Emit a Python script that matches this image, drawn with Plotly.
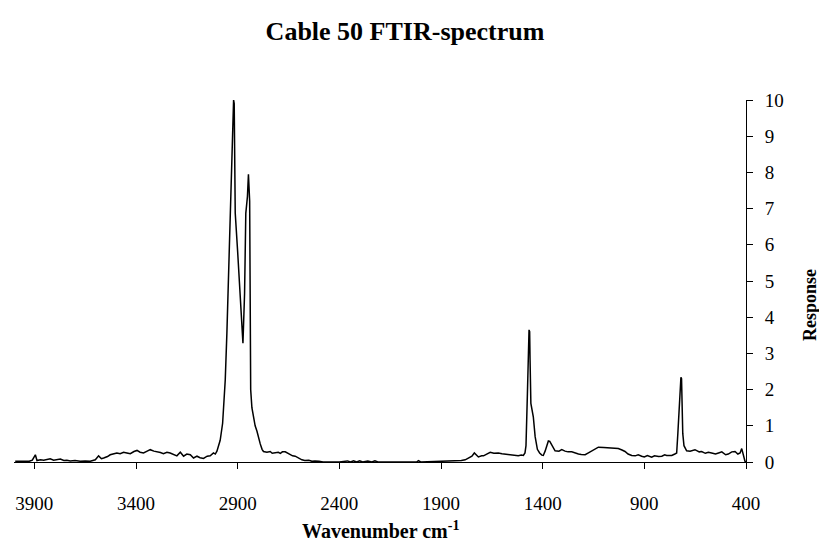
import plotly.graph_objects as go

# Wavenumber (cm-1) and response
wavenumber = [
    3994, 3970, 3953, 3925, 3910, 3904, 3895, 3887, 3870, 3854, 3840, 3822, 3805, 3790, 3772,
    3755, 3740, 3723, 3700, 3674, 3650, 3625, 3610, 3600, 3584, 3570, 3559, 3540, 3527, 3510,
    3494, 3478, 3461, 3445, 3428, 3410, 3395, 3380, 3363, 3345, 3330, 3312, 3297, 3280, 3265,
    3248, 3232, 3215, 3199, 3182, 3166, 3150, 3133, 3117, 3100, 3085, 3068, 3050, 3035, 3019,
    3010, 3002, 2994, 2986, 2974, 2961, 2953, 2937, 2922, 2920, 2917, 2912, 2900, 2887, 2879,
    2874, 2866, 2860, 2852, 2847, 2841, 2836, 2830, 2822, 2814, 2805, 2797, 2789, 2780, 2773,
    2756, 2740, 2730, 2715, 2700, 2690, 2680, 2666, 2655, 2642, 2630, 2617, 2600, 2584, 2570,
    2550, 2535, 2520, 2500, 2480, 2445, 2400, 2360, 2345, 2330, 2315, 2300, 2285, 2260, 2240,
    2225, 2210, 2020, 2011, 2000, 1814, 1800, 1781, 1765, 1748, 1736, 1725, 1716, 1700, 1691,
    1675, 1658, 1640, 1618, 1600, 1585, 1569, 1550, 1536, 1520, 1505, 1495, 1487, 1482, 1475,
    1470, 1467, 1464, 1462, 1458, 1446, 1437, 1426, 1415, 1404, 1397, 1388, 1380, 1372, 1365,
    1355, 1339, 1320, 1306, 1290, 1275, 1257, 1240, 1224, 1210, 1191, 1175, 1158, 1140, 1126,
    1100, 1077, 1050, 1028, 1010, 995, 980, 962, 945, 930, 913, 900, 885, 864, 850,
    830, 814, 800, 790, 765, 750, 741, 735, 729, 724, 720, 717, 715, 711, 705,
    700, 692, 675, 651, 630, 618, 600, 585, 569, 550, 535, 519, 500, 487, 470,
    454, 440, 429, 421, 413, 405, 400,
]
response = [
    0.02, 0.02, 0.03, 0.02, 0.05, 0.11, 0.20, 0.04, 0.06, 0.05, 0.07, 0.09, 0.05, 0.06, 0.08,
    0.04, 0.05, 0.03, 0.04, 0.02, 0.03, 0.02, 0.05, 0.06, 0.17, 0.09, 0.11, 0.15, 0.20, 0.22,
    0.25, 0.23, 0.27, 0.25, 0.23, 0.29, 0.32, 0.27, 0.25, 0.30, 0.34, 0.30, 0.29, 0.26, 0.23,
    0.27, 0.25, 0.22, 0.17, 0.27, 0.16, 0.22, 0.20, 0.11, 0.16, 0.12, 0.10, 0.16, 0.17, 0.25,
    0.22, 0.30, 0.43, 0.60, 1.07, 2.27, 3.56, 6.88, 9.95, 10.0, 9.9, 6.88, 5.8, 4.67, 3.74,
    3.28, 4.66, 6.87, 7.33, 7.95, 7.2, 2.0, 1.5, 1.2, 1.0, 0.85, 0.65, 0.50, 0.35, 0.29,
    0.27, 0.29, 0.24, 0.25, 0.27, 0.24, 0.28, 0.28, 0.24, 0.20, 0.17, 0.16, 0.10, 0.06, 0.04,
    0.05, 0.02, 0.03, 0.02, 0.0, 0.0, 0.0, 0.03, 0.0, 0.03, 0.0, 0.03, 0.0, 0.03, 0.0,
    0.03, 0.0, 0.0, 0.04, 0.0, 0.02, 0.04, 0.06, 0.10, 0.16, 0.25, 0.18, 0.14, 0.17, 0.17,
    0.22, 0.27, 0.24, 0.25, 0.23, 0.22, 0.20, 0.18, 0.18, 0.17, 0.19, 0.18, 0.25, 0.45, 1.9,
    3.0, 3.65, 3.6, 2.82, 1.62, 1.25, 0.70, 0.35, 0.25, 0.19, 0.18, 0.30, 0.48, 0.58, 0.57,
    0.48, 0.31, 0.30, 0.34, 0.30, 0.28, 0.28, 0.24, 0.22, 0.21, 0.20, 0.25, 0.31, 0.38, 0.41,
    0.40, 0.39, 0.38, 0.37, 0.33, 0.29, 0.22, 0.18, 0.17, 0.20, 0.16, 0.14, 0.18, 0.13, 0.17,
    0.15, 0.16, 0.20, 0.18, 0.18, 0.22, 0.25, 0.8, 1.44, 1.7, 2.34, 2.3, 1.71, 0.79, 0.45,
    0.38, 0.31, 0.30, 0.34, 0.28, 0.29, 0.24, 0.27, 0.25, 0.22, 0.25, 0.28, 0.20, 0.22, 0.28,
    0.29, 0.22, 0.25, 0.37, 0.16, 0.02, 0.0,
]

x_ticks = [3900, 3400, 2900, 2400, 1900, 1400, 900, 400]
y_ticks = [0, 1, 2, 3, 4, 5, 6, 7, 8, 9, 10]

FONT = "Liberation Serif, Times New Roman, serif"

W, H = 819, 554
ML, MR, MT, MB = 14, 73, 100, 92
PW = W - ML - MR
PH = H - MT - MB

fig = go.Figure()
fig.add_trace(go.Scatter(
    x=wavenumber, y=response, mode="lines",
    line=dict(color="black", width=1.5),
    showlegend=False, hoverinfo="skip",
))

fig.update_layout(
    width=W, height=H,
    margin=dict(l=ML, r=MR, t=MT, b=MB),
    paper_bgcolor="white", plot_bgcolor="white",
    font=dict(family=FONT, color="black", size=19),
    title=dict(
        text="<b>Cable 50 FTIR-spectrum</b>",
        x=405 / W, y=1 - 31 / H, xanchor="center", yanchor="middle",
        font=dict(family=FONT, size=26, color="black"),
    ),
    xaxis=dict(
        range=[4000, 400], tickvals=x_ticks, ticktext=[str(v) for v in x_ticks],
        showline=True, linecolor="black", linewidth=1,
        ticks="outside", ticklen=6, tickcolor="black", tickwidth=1,
        showgrid=False, zeroline=False, ticklabelstandoff=18,
        tickfont=dict(family=FONT, size=19, color="black"),
    ),
    yaxis=dict(
        range=[0, 10], tickvals=y_ticks, side="right",
        showline=True, linecolor="black", linewidth=1,
        ticks="outside", ticklen=6, tickcolor="black", tickwidth=1,
        showgrid=False, zeroline=False, ticklabelstandoff=8,
        tickfont=dict(family=FONT, size=19, color="black"),
    ),
    annotations=[
        dict(text="<b>Wavenumber cm<sup>-1</sup></b>", xref="paper", yref="paper",
             x=0.5, y=-68 / PH, xanchor="center", yanchor="middle",
             showarrow=False, font=dict(family=FONT, size=20, color="black")),
        dict(text="<b>Response</b>", xref="paper", yref="paper",
             x=(810 - ML) / PW, y=(462 - 305) / PH, xanchor="center", yanchor="middle",
             textangle=-90, showarrow=False,
             font=dict(family=FONT, size=18, color="black")),
    ],
)

# remove the page's default 8 px body margin so the figure fills the window
fig.write_html(
    "out.html",
    config={"displayModeBar": False},
    post_script="document.body.style.margin='0';document.body.style.overflow='hidden';",
)
